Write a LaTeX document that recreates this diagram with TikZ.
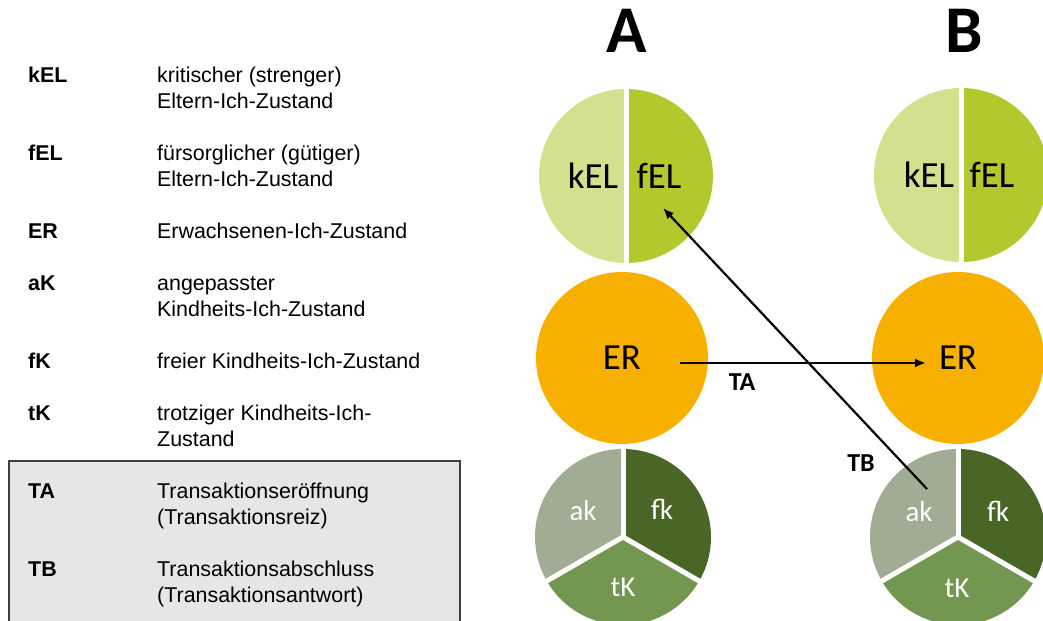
\documentclass[tikz,border=0pt]{standalone}
\usepackage{fontspec}
\setmainfont{Liberation Sans}
\newfontfamily\carl{Carlito}
\usetikzlibrary{arrows.meta}
\definecolor{kelc}{RGB}{212,224,142}
\definecolor{felc}{RGB}{178,200,45}
\definecolor{erc}{RGB}{248,176,0}
\definecolor{akc}{RGB}{160,172,148}
\definecolor{fkc}{RGB}{74,102,38}
\definecolor{tkc}{RGB}{115,150,80}
\definecolor{boxfill}{RGB}{230,230,230}
\definecolor{boxline}{RGB}{64,64,64}
\tikzset{
  keytxt/.style={anchor=base west, inner sep=0pt, font=\fontsize{21.5}{26}\selectfont\bfseries},
  desctxt/.style={anchor=base west, inner sep=0pt, font=\fontsize{21.5}{26}\selectfont},
  circtxt/.style={inner sep=0pt, font=\carl\fontsize{37}{40}\selectfont},
  pietxt/.style={inner sep=0pt, text=white, font=\carl\fontsize{29}{32}\selectfont},
  bigtxt/.style={inner sep=0pt, font=\carl\bfseries\fontsize{67}{70}\selectfont},
  trtxt/.style={inner sep=0pt, font=\carl\bfseries\fontsize{26}{28}\selectfont},
  ercirc/.style={circle, fill=erc, minimum size=172bp, inner sep=0pt, font=\carl\fontsize{37}{40}\selectfont},
  sep/.style={white, line width=5bp},
  arr/.style={line width=2.2bp, -{Latex[length=11bp,width=9bp]}}
}
\begin{document}
\begin{tikzpicture}[x=1bp,y=1bp]
\useasboundingbox (0,0) rectangle (1043,621);

% legend box
\fill[boxfill] (9,-5) rectangle (460,160);
\draw[boxline, line width=1.4bp] (9,-5) -- (9,160) -- (460,160) -- (460,-5);

% legend texts
\node[keytxt] (k1) at (28,538) {kEL};
\node[desctxt] (d1a) at (157,538) {kritischer (strenger)};
\node[desctxt] (d1b) at (157,512) {Eltern-Ich-Zustand};
\node[keytxt] (k2) at (28,460) {fEL};
\node[desctxt] (d2a) at (157,460) {fürsorglicher (gütiger)};
\node[desctxt] (d2b) at (157,434) {Eltern-Ich-Zustand};
\node[keytxt] (k3) at (28,382) {ER};
\node[desctxt] (d3a) at (157,382) {Erwachsenen-Ich-Zustand};
\node[keytxt] (k4) at (28,330) {aK};
\node[desctxt] (d4a) at (157,330) {angepasster};
\node[desctxt] (d4b) at (157,304) {Kindheits-Ich-Zustand};
\node[keytxt] (k5) at (28,252) {fK};
\node[desctxt] (d5a) at (157,252) {freier Kindheits-Ich-Zustand};
\node[keytxt] (k6) at (28,200) {tK};
\node[desctxt] (d6a) at (157,200) {trotziger Kindheits-Ich-};
\node[desctxt] (d6b) at (157,174) {Zustand};
\node[keytxt] (k7) at (28,122) {TA};
\node[desctxt] (d7a) at (157,122) {Transaktionseröffnung};
\node[desctxt] (d7b) at (157,96) {(Transaktionsreiz)};
\node[keytxt] (k8) at (28,44) {TB};
\node[desctxt] (d8a) at (157,44) {Transaktionsabschluss};
\node[desctxt] (d8b) at (157,18) {(Transaktionsantwort)};

% headings
\node[bigtxt] (hA) at (627,590) {A};
\node[bigtxt] (hB) at (964,590) {B};

% top circles (parent ego state)
\foreach \cx/\cy in {626/445, 961/446}{
  \begin{scope}[shift={(\cx,\cy)}]
    \fill[kelc] (0,-87) arc (-90:-270:87) -- cycle;
    \fill[felc] (0,-87) arc (-90:90:87) -- cycle;
    \draw[sep] (0,-89) -- (0,89);
  \end{scope}
}
\node[circtxt] (kelA) at (593,445) {kEL};
\node[circtxt] (felA) at (659,445) {fEL};
\node[circtxt] (kelB) at (929,446) {kEL};
\node[circtxt] (felB) at (992,446) {fEL};

% adult ego state circles
\node[ercirc] (erA) at (622,263) {ER};
\node[ercirc] (erB) at (958,263) {ER};

% child ego state pies
\foreach \cx/\cy in {623/84, 958/84}{
  \begin{scope}[shift={(\cx,\cy)}]
    \fill[akc] (0,0) -- (90:88) arc (90:210:88) -- cycle;
    \fill[fkc] (0,0) -- (-30:88) arc (-30:90:88) -- cycle;
    \fill[tkc] (0,0) -- (210:88) arc (210:330:88) -- cycle;
    \foreach \a in {90,210,330} \draw[sep] (0,0) -- (\a:90);
  \end{scope}
}
\node[pietxt] (akA) at (583,110) {ak};
\node[pietxt] (fkA) at (662,112) {fk};
\node[pietxt] (tkA) at (623,34) {tK};
\node[pietxt] (akB) at (919,109) {ak};
\node[pietxt] (fkB) at (998,110) {fk};
\node[pietxt] (tkB) at (957,33) {tK};

% transactions
\coordinate (taS) at (680,258);
\coordinate (taE) at (926,258);
\coordinate (tbS) at (927,132);
\coordinate (tbE) at (663,413);
\draw[arr] (taS) -- (taE);
\draw[arr] (tbS) -- (tbE);
\node[trtxt] (ta) at (742,239) {TA};
\node[trtxt] (tb) at (861,158) {TB};
\end{tikzpicture}
\end{document}
